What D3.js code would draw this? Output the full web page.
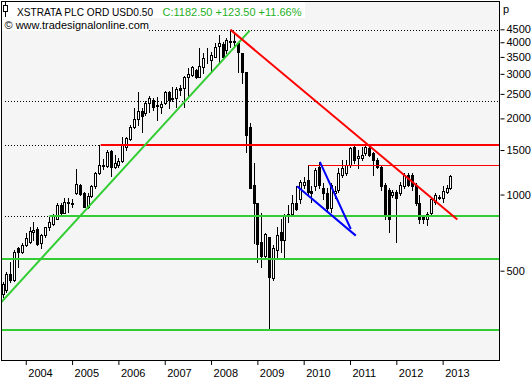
<!DOCTYPE html>
<html>
<head>
<meta charset="utf-8">
<script src="https://cdn.jsdelivr.net/npm/d3@7"></script>
<style>
  html, body { margin: 0; padding: 0; background: #fff; }
  svg { display: block; font-family: 'Liberation Sans', Arial, sans-serif; }
  .axis text { font-size: 11px; fill: #000; }
  .axis line { stroke: #000; }
</style>
</head>
<body>
<div class="chart"></div>
<script>
/* Xstrata monthly candles, Jul 2003 - Mar 2013, pence */
const firstMonth = new Date(2003, 6, 1)
const opens = [405, 421, 487, 461, 617, 595, 634, 651, 714, 734, 646, 695, 747, 768, 804, 913, 849, 930, 930, 1018,
  1095, 1018, 896, 991, 1076, 1222, 1314, 1300, 1492, 1290, 1314, 1362, 1547, 1665, 1855, 1997, 2147, 2110, 2311, 2373,
  2260, 2227, 2311, 2553, 2395, 2418, 2648, 2648, 2926, 2979, 3118, 2926, 3205, 3432, 3415, 3509, 3878, 3951, 3740, 4026,
  4040, 3989, 3640, 3062, 1855, 1095, 930, 651, 569, 677, 466, 606, 714, 664, 819, 834, 930, 956, 1095, 1146,
  1037, 1076, 1290, 1066, 1018, 888, 1018, 1047, 1200, 1222, 1314, 1547, 1401, 1401, 1466, 1533, 1466, 1375, 1290, 1095,
  1047, 1000, 1028, 1018, 1076, 1200, 1200, 1095, 930, 819, 797, 849, 938, 973, 973, 1028, 1059]
const highs = [453, 492, 543, 606, 623, 646, 705, 747, 780, 741, 701, 747, 812, 834, 930, 930, 973, 973, 956, 1267,
  1105, 1028, 1018, 1095, 1233, 1566, 1380, 1506, 1506, 1439, 1401, 1696, 1696, 1890, 2207, 2553, 2207, 2333, 2462, 2418,
  2440, 2333, 2576, 2576, 2671, 2671, 2720, 2951, 3176, 3215, 3146, 3809, 3640, 3809, 3672, 3989, 4287, 4026, 4171, 4486,
  4379, 4026, 3640, 3062, 1925, 1338, 930, 849, 707, 677, 634, 741, 797, 834, 913, 1000, 1076, 1146, 1168, 1314,
  1076, 1279, 1350, 1115, 1066, 1115, 1076, 1279, 1375, 1375, 1547, 1576, 1506, 1547, 1576, 1561, 1479, 1401, 1314, 1115,
  1066, 1047, 1047, 1126, 1222, 1222, 1222, 1115, 1000, 826, 857, 982, 1018, 1000, 1076, 1095, 1200]
const lows = [393, 413, 453, 457, 515, 589, 628, 646, 664, 634, 617, 682, 727, 761, 797, 834, 849, 857, 896, 1009,
  1000, 896, 888, 982, 1066, 1211, 1260, 1290, 1189, 1279, 1290, 1350, 1506, 1649, 1838, 1890, 1774, 2071, 2128, 2167,
  1979, 2110, 2290, 2207, 2333, 2227, 2484, 2227, 2439, 2930, 2899, 2926, 3034, 3325, 3062, 3509, 3354, 3478, 3640, 3843,
  3843, 3062, 2772, 1479, 1066, 646, 539, 519, 564, 293, 461, 564, 595, 558, 782, 819, 865, 930, 1066, 1000,
  938, 1047, 1066, 956, 872, 857, 973, 1028, 1168, 1200, 1290, 1338, 1279, 1375, 1439, 1414, 1200, 1279, 1047, 797,
  714, 982, 651, 1000, 1066, 1076, 1047, 913, 775, 775, 761, 834, 921, 956, 938, 1018, 1050]
const closes = [445, 487, 461, 595, 595, 634, 672, 720, 727, 640, 695, 741, 782, 819, 913, 849, 938, 938, 921, 1105,
  1009, 896, 991, 1085, 1222, 1314, 1300, 1479, 1290, 1338, 1362, 1576, 1680, 1855, 1997, 2147, 2052, 2311, 2418, 2227,
  2240, 2290, 2553, 2373, 2418, 2623, 2599, 2926, 3007, 3205, 2926, 3234, 3478, 3448, 3574, 3843, 3989, 3509, 4096, 4040,
  4000, 3672, 3062, 1726, 1066, 930, 640, 569, 701, 470, 612, 695, 664, 819, 841, 930, 880, 1126, 1126, 1028,
  1018, 1255, 1095, 1018, 888, 1095, 1037, 1222, 1279, 1314, 1521, 1375, 1414, 1439, 1547, 1439, 1375, 1290, 1076, 819,
  804, 1028, 973, 1095, 1200, 1095, 1076, 930, 804, 797, 834, 956, 1000, 982, 1037, 1059, 1182.5]

const yTicks = [500, 1000, 1500, 2000, 2500, 3000, 3500, 4000, 4500]

// drawn studies: [month index, price]
const dottedLevels = [4486, 2352, 1566, 819]
const greenTrend = [[-0.3, 376], [64, 4445]]
const redTrend = [[59, 4486], [117.8, 797]]
const blueLineA = [[76.3, 1079], [91.5, 688]]
const blueLineB = [[82.2, 1346], [90.2, 731]]
const redLevels = [[25.4, 1566]]
const thinRedLevels = [[79.2, 1310]]
const greenLevels = [[12.1, 819], [-0.5, 555], [-0.5, 291]]

const title = 'XSTRATA PLC ORD USD0.50'
const quote = 'C:1182.50 +123.50 +11.66%'
const source = '\u00a9 www.tradesignalonline.com'

const width = 531
const height = 380
const plot = { left: 1, right: 499, top: 1, bottom: 360 }

const months = d3.timeMonth.range(firstMonth, d3.timeMonth.offset(firstMonth, closes.length))
const data = months.map((m, i) => ({
  i: i,
  date: m,
  open: opens[i],
  high: highs[i],
  low: lows[i],
  close: closes[i],
}))

const svg = d3
  .select('.chart')
  .append('svg')
  .attr('width', width)
  .attr('height', height)

let x = d3
  .scaleLinear()
  .domain([0, data.length - 1])
  .range([2.6, 2.6 + 3.86 * (data.length - 1)])

let y = d3.scaleLog().domain([500, 4500]).range([270.7, 29.3])

const px = (v) => Math.round(v) + 0.5

// plot area
svg
  .append('rect')
  .attr('x', plot.left + 0.5)
  .attr('y', plot.top + 0.5)
  .attr('width', plot.right - plot.left)
  .attr('height', plot.bottom - plot.top)
  .style('fill', '#f5f5f5')
  .style('stroke', '#000')

svg
  .append('clipPath')
  .attr('id', 'clip')
  .append('rect')
  .attr('x', plot.left + 1)
  .attr('y', plot.top + 1)
  .attr('width', plot.right - plot.left - 1)
  .attr('height', plot.bottom - plot.top - 1)

const inner = svg.append('g').attr('clip-path', 'url(#clip)')

// dotted levels
inner
  .selectAll('.dotted')
  .data(dottedLevels)
  .enter()
  .append('line')
  .attr('x1', plot.left + 4)
  .attr('x2', plot.right)
  .attr('y1', (d) => px(y(d)))
  .attr('y2', (d) => px(y(d)))
  .style('stroke', '#000')
  .style('stroke-dasharray', '1,2')

// candles
const candle = inner.selectAll('.candle').data(data).enter().append('g')

candle
  .append('line')
  .attr('x1', (d) => px(x(d.i)))
  .attr('x2', (d) => px(x(d.i)))
  .attr('y1', (d) => Math.round(y(d.high)))
  .attr('y2', (d) => Math.round(y(d.low)) + 1)
  .style('stroke', '#000')

candle
  .append('rect')
  .attr('x', (d) => Math.round(x(d.i)) - 0.5)
  .attr('width', 2)
  .attr('y', (d) => px(y(Math.max(d.open, d.close))))
  .attr('height', (d) => Math.round(y(Math.min(d.open, d.close))) - Math.round(y(Math.max(d.open, d.close))))
  .style('fill', (d) => (d.close >= d.open ? '#fff' : '#000'))
  .style('stroke', '#000')

// studies
const xEnd = x.invert(plot.right + 1)
const line = d3
  .line()
  .x((d) => x(d[0]))
  .y((d) => y(d[1]))

function drawSegment(points, color, w) {
  inner
    .append('path')
    .attr('d', line(points))
    .style('fill', 'none')
    .style('stroke', color)
    .style('stroke-width', w)
}

function drawLevel(level, color, w) {
  let yy = Math.round(y(level[1])) + (w === 1 ? 0.5 : 0)
  inner
    .append('line')
    .attr('x1', x(level[0]))
    .attr('x2', x(xEnd))
    .attr('y1', yy)
    .attr('y2', yy)
    .style('stroke', color)
    .style('stroke-width', w)
}

greenLevels.forEach((l) => drawLevel(l, '#32cd32', 2))
redLevels.forEach((l) => drawLevel(l, '#ff0000', 2))
thinRedLevels.forEach((l) => drawLevel(l, '#ff0000', 1))
drawSegment(greenTrend, '#32cd32', 2)
drawSegment(redTrend, '#ff0000', 2)
drawSegment(blueLineA, '#0000ff', 2)
drawSegment(blueLineB, '#0000ff', 2)

// header
svg.append('rect').attr('x', 2).attr('y', 2).attr('width', 303).attr('height', 16).style('fill', '#fff')
svg.append('rect').attr('x', 2).attr('y', 18).attr('width', 147).attr('height', 13).style('fill', '#fff')

svg
  .append('line')
  .attr('x1', 5.5)
  .attr('x2', 5.5)
  .attr('y1', 2)
  .attr('y2', 17)
  .style('stroke', '#000')
svg
  .append('rect')
  .attr('x', 3.5)
  .attr('y', 5.5)
  .attr('width', 4)
  .attr('height', 6)
  .style('fill', '#fff')
  .style('stroke', '#000')

svg
  .append('text')
  .attr('x', 17)
  .attr('y', 16)
  .attr('textLength', 136)
  .attr('lengthAdjust', 'spacingAndGlyphs')
  .style('font-size', '11px')
  .style('fill', '#000')
  .text(title)

svg
  .append('text')
  .attr('x', 162.5)
  .attr('y', 16)
  .attr('textLength', 139)
  .attr('lengthAdjust', 'spacingAndGlyphs')
  .style('font-size', '11px')
  .style('fill', '#1fb01f')
  .text(quote)

svg
  .append('text')
  .attr('x', 4.5)
  .attr('y', 29)
  .style('font-size', '11px')
  .style('fill', '#000')
  .text(source)

// axes
const yAxis = svg
  .append('g')
  .attr('class', 'axis')
  .attr('transform', `translate(${plot.right + 1.5},0)`)
  .call(d3.axisRight(y).tickValues(yTicks).tickSize(4).tickPadding(2).tickFormat(d3.format('d')))
yAxis.select('.domain').remove()

svg
  .append('text')
  .attr('x', 503)
  .attr('y', 13)
  .style('font-size', '11px')
  .text('p')

const janIdx = data.filter((d) => d.date.getMonth() === 0).map((d) => d.i)
const xAxis = svg
  .append('g')
  .attr('class', 'axis')
  .attr('transform', `translate(0,${plot.bottom + 1})`)
  .call(
    d3
      .axisBottom(x)
      .tickValues(janIdx)
      .tickSize(4)
      .tickPadding(4)
      .tickFormat((i) => d3.timeFormat('%Y')(months[i]))
  )
xAxis.select('.domain').remove()
xAxis.selectAll('text').attr('x', 2).style('text-anchor', 'start')
</script>
</body>
</html>
